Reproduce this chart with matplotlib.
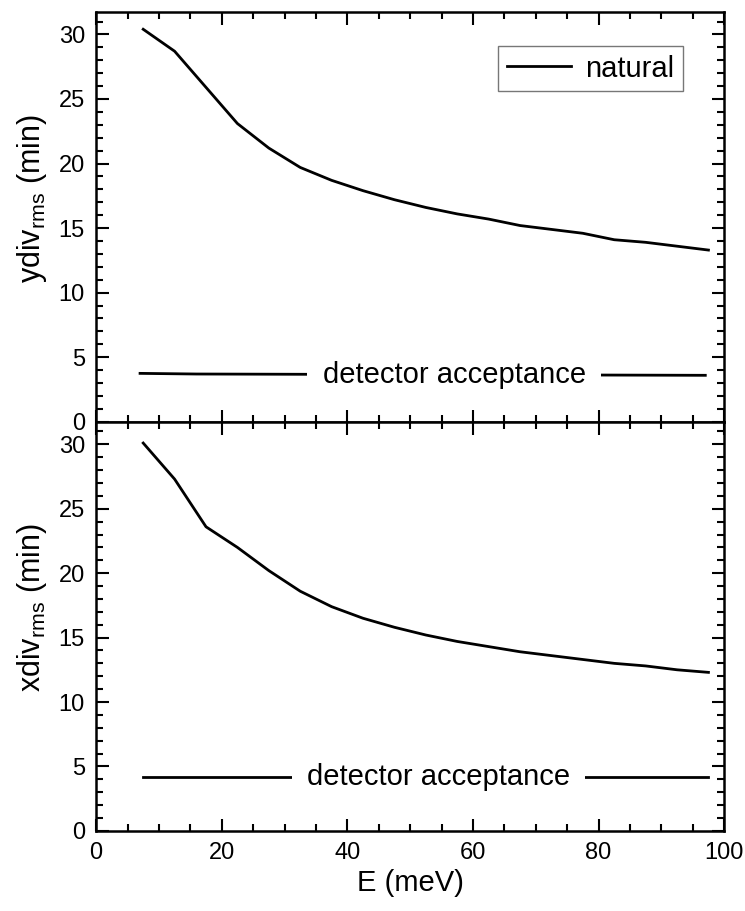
import numpy as np
import matplotlib
matplotlib.use("Agg")
import matplotlib.pyplot as plt
from matplotlib.ticker import MultipleLocator

plt.rcParams['font.family'] = ['Liberation Sans', 'DejaVu Sans']
plt.rcParams['mathtext.fontset'] = 'custom'
plt.rcParams['mathtext.rm'] = 'Liberation Sans'

# energies (meV)
energy = [7.5, 12.5, 17.5, 22.5, 27.5, 32.5, 37.5, 42.5, 47.5, 52.5,
          57.5, 62.5, 67.5, 72.5, 77.5, 82.5, 87.5, 92.5, 97.5]
# rms divergence, natural beam (min)
ydiv_natural = [30.4, 28.7, 25.9, 23.1, 21.2, 19.7, 18.7, 17.9, 17.2, 16.6,
                16.1, 15.7, 15.2, 14.9, 14.6, 14.1, 13.9, 13.6, 13.3]
xdiv_natural = [30.1, 27.3, 23.6, 22.0, 20.2, 18.6, 17.4, 16.5, 15.8, 15.2,
                14.7, 14.3, 13.9, 13.6, 13.3, 13.0, 12.8, 12.5, 12.3]
# detector acceptance (min)
acc_energy = [7.0, 16.0, 97.0]
ydiv_acc = [3.75, 3.7, 3.6]
xdiv_acc_energy = [7.5, 97.5]
xdiv_acc = [4.2, 4.2]

fig = plt.figure(figsize=(7.45, 9.11), dpi=100)
ax1 = fig.add_axes([0.129, 0.537, 0.843, 0.450])
ax2 = fig.add_axes([0.129, 0.088, 0.843, 0.449], sharex=ax1)

ax1.plot(energy, ydiv_natural, color='black', lw=2, label='natural')
ax1.plot(acc_energy, ydiv_acc, color='black', lw=2)
ax1.text(57, 3.65, 'detector acceptance', fontsize=21, ha='center', va='center',
         bbox=dict(facecolor='white', edgecolor='none', pad=11))

ax2.plot(energy, xdiv_natural, color='black', lw=2)
ax2.plot(xdiv_acc_energy, xdiv_acc, color='black', lw=2)
ax2.text(54.5, 4.2, 'detector acceptance', fontsize=21, ha='center', va='center',
         bbox=dict(facecolor='white', edgecolor='none', pad=11))

leg = ax1.legend(loc='upper right', bbox_to_anchor=(0.935, 0.917), fontsize=21,
                 frameon=True, fancybox=False, handlelength=2.2, borderpad=0.3,
                 borderaxespad=0, handletextpad=0.5)
leg.get_frame().set_edgecolor('#555555')
leg.get_frame().set_linewidth(1.0)

for ax in (ax1, ax2):
    ax.set_xlim(0, 100)
    ax.set_ylim(0, 31.75)
    ax.xaxis.set_major_locator(MultipleLocator(20))
    ax.xaxis.set_minor_locator(MultipleLocator(5))
    ax.yaxis.set_major_locator(MultipleLocator(5))
    ax.yaxis.set_minor_locator(MultipleLocator(1))
    ax.tick_params(which='both', direction='in', top=True, right=True,
                   width=1.5, labelsize=17, colors='black', pad=8)
    ax.tick_params(which='major', length=9)
    ax.tick_params(which='minor', length=5)
    for s in ax.spines.values():
        s.set_linewidth(1.8)

ax1.tick_params(labelbottom=False)
ax1.set_ylabel(r'ydiv$_{\mathrm{rms}}$ (min)', fontsize=22)
ax2.set_ylabel(r'xdiv$_{\mathrm{rms}}$ (min)', fontsize=22)
ax1.yaxis.set_label_coords(-0.075, 0.545)
ax2.yaxis.set_label_coords(-0.075, 0.547)
ax2.set_xlabel('E (meV)', fontsize=21, labelpad=4)

fig.savefig('out.png', dpi=100)
